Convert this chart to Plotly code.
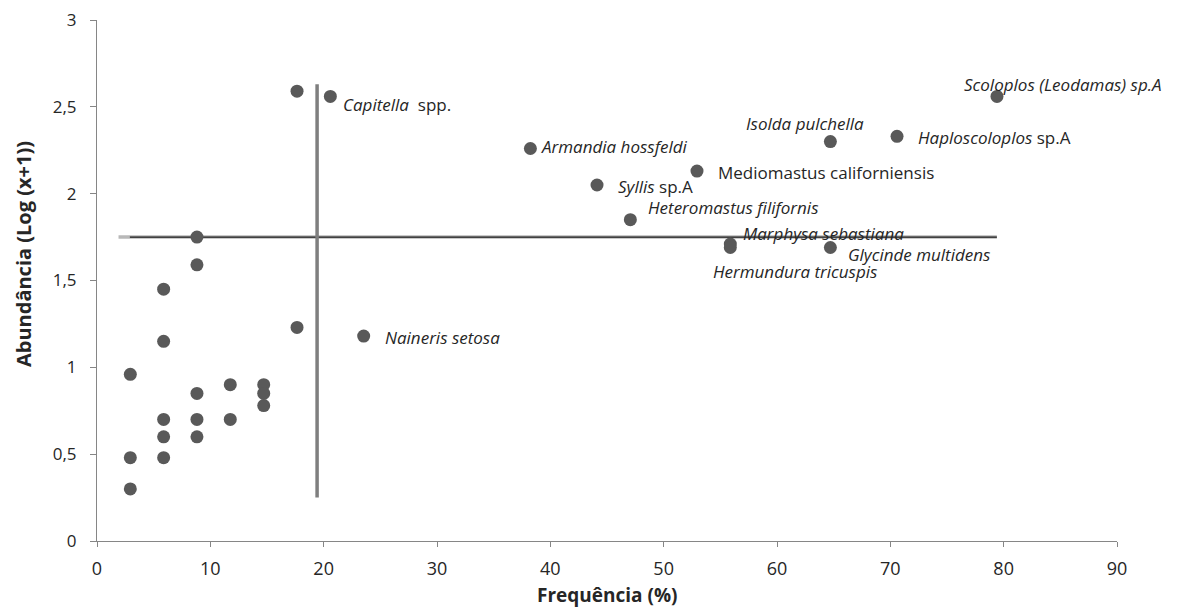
import plotly.graph_objects as go

# ---- data ----
# unlabeled species (frequency %, log abundance)
other_freq = [8.82, 8.82, 5.88, 5.88, 2.94, 11.76, 14.71, 14.71, 14.71, 8.82,
              5.88, 8.82, 11.76, 5.88, 8.82, 2.94, 5.88, 2.94, 17.65, 17.65]
other_abund = [1.75, 1.59, 1.45, 1.15, 0.96, 0.90, 0.90, 0.85, 0.78, 0.85,
               0.70, 0.70, 0.70, 0.60, 0.60, 0.48, 0.48, 0.30, 1.23, 2.59]

species = ["<i>Capitella</i>  spp.", "<i>Naineris setosa</i>", "<i>Armandia hossfeldi</i>",
           "<i>Syllis</i> sp.A", "<i>Heteromastus filifornis</i>", "Mediomastus californiensis",
           "<i>Marphysa sebastiana</i>", "<i>Hermundura tricuspis</i>", "<i>Glycinde multidens</i>",
           "<i>Isolda pulchella</i>", "<i>Haploscoloplos</i> sp.A", "<i>Scoloplos (Leodamas) sp.A</i>"]
species_freq = [20.59, 23.53, 38.24, 44.12, 47.06, 52.94, 55.88, 55.88, 64.71, 64.71, 70.59, 79.41]
species_abund = [2.56, 1.18, 2.26, 2.05, 1.85, 2.13, 1.71, 1.69, 1.69, 2.30, 2.33, 2.56]

# reference (cut-off) lines
freq_cut = 19.42
freq_cut_span = [0.25, 2.63]
abund_cut = 1.75
abund_cut_span = [2.9, 79.4]
abund_cut_halo_start = 1.9

x_ticks = [0, 10, 20, 30, 40, 50, 60, 70, 80, 90]
x_ticktext = ["0", "10", "20", "30", "40", "50", "60", "70", "80", "90"]
y_ticks = [0, 0.5, 1, 1.5, 2, 2.5, 3]
y_ticktext = ["0", "0,5", "1", "1,5", "2", "2,5", "3"]

# ---- styles (label pixel offsets: xshift, yshift, xanchor) ----
label_offsets = [(12, -8, "left"), (20, -1, "left"), (10, 2, "left"), (20, -2, "left"),
                 (17, 12, "left"), (20, -1, "left"), (12, 11, "left"), (-18, -24, "left"),
                 (17, -7, "left"), (-85, 18, "left"), (20, -1, "left"), (-34, 12, "left")]

MARK = "#595959"
FONT = "Open Sans"
TXT = "#262626"

fig = go.Figure()

# horizontal cut line (gray halo + dark line)
fig.add_trace(go.Scatter(x=[abund_cut_halo_start, abund_cut_span[1]], y=[abund_cut, abund_cut],
                         mode="lines", line=dict(color="#b8b8b8", width=3.5),
                         hoverinfo="skip", showlegend=False))
fig.add_trace(go.Scatter(x=abund_cut_span, y=[abund_cut, abund_cut],
                         mode="lines", line=dict(color="#1a1a1a", width=1.3),
                         hoverinfo="skip", showlegend=False))
# vertical cut line
fig.add_trace(go.Scatter(x=[freq_cut, freq_cut], y=freq_cut_span,
                         mode="lines", line=dict(color="#7f7f7f", width=3.5),
                         hoverinfo="skip", showlegend=False))

fig.add_trace(go.Scatter(x=other_freq, y=other_abund, mode="markers",
                         marker=dict(color=MARK, size=13, line=dict(width=0)),
                         showlegend=False))
fig.add_trace(go.Scatter(x=species_freq, y=species_abund, mode="markers",
                         marker=dict(color=MARK, size=13, line=dict(width=0)),
                         text=species, hoverinfo="text", showlegend=False))

for name, fx, fy, (dx, dy, xa) in zip(species, species_freq, species_abund, label_offsets):
    fig.add_annotation(x=fx, y=fy, text=name, showarrow=False, xanchor=xa, yanchor="middle",
                       xshift=dx, yshift=dy, borderpad=0,
                       font=dict(family=FONT, size=17, color=TXT))

fig.add_annotation(x=0.5, y=-0.104, xref="paper", yref="paper", text="<b>Frequência (%)</b>",
                   showarrow=False, xanchor="center", yanchor="middle",
                   font=dict(family=FONT, size=19, color=TXT))
fig.add_annotation(x=-0.072, y=0.55, xref="paper", yref="paper",
                   text="<b>Abundância (Log (x+1))</b>", textangle=-90,
                   showarrow=False, xanchor="center", yanchor="middle",
                   font=dict(family=FONT, size=20, color=TXT))

fig.update_layout(
    width=1178, height=608,
    margin=dict(l=89, r=69, t=12, b=75),
    plot_bgcolor="white", paper_bgcolor="white",
    xaxis=dict(range=[0, 90], tickvals=x_ticks, ticktext=x_ticktext, showgrid=False,
               zeroline=False, showline=True, linecolor="#868686", linewidth=1,
               ticks="outside", ticklen=5, tickcolor="#868686", automargin=False,
               ticklabeloverflow="allow",
               tickfont=dict(family=FONT, size=18, color=TXT), ticklabelstandoff=6),
    yaxis=dict(range=[0, 3], tickvals=y_ticks, ticktext=y_ticktext, showgrid=False,
               zeroline=False, showline=True, linecolor="#868686", linewidth=1,
               ticks="outside", ticklen=6, tickcolor="#868686", automargin=False,
               ticklabeloverflow="allow",
               tickfont=dict(family=FONT, size=17, color=TXT), ticklabelstandoff=10),
)

fig.write_html("out.html")
